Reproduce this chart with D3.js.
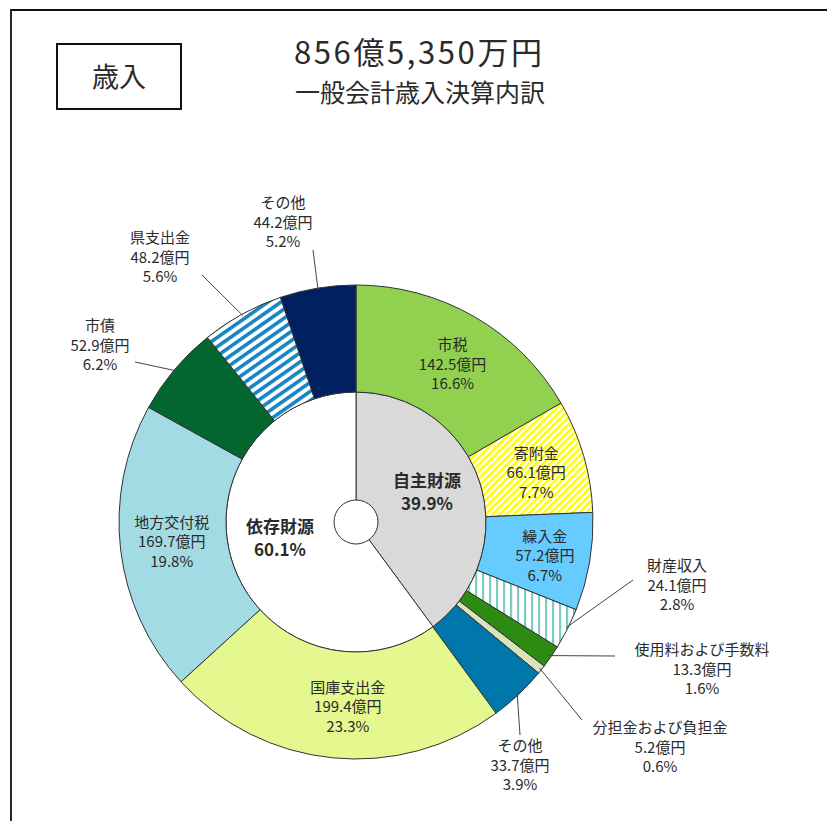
<!DOCTYPE html>
<html lang="ja">
<head>
<meta charset="utf-8">
<script src="https://cdn.jsdelivr.net/npm/d3@7"></script>
<style>
  html, body { margin: 0; padding: 0; background: #fff; }
  svg text { font-family: "Noto Sans CJK JP", "Noto Sans", sans-serif; fill: #2a2a2a; }
</style>
</head>
<body>
<div id="chart"></div>
<script>
// 歳入 outer ring (clockwise from the top)
const outerNames = ["市税", "寄附金", "繰入金", "財産収入", "使用料および手数料", "分担金および負担金",
  "その他", "国庫支出金", "地方交付税", "市債", "県支出金", "その他"];
const outerValues = [142.5, 66.1, 57.2, 24.1, 13.3, 5.2, 33.7, 199.4, 169.7, 52.9, 48.2, 44.2];
const outerPercents = [16.6, 7.7, 6.7, 2.8, 1.6, 0.6, 3.9, 23.3, 19.8, 6.2, 5.6, 5.2];
const outerFills = ["#92d050", "url(#hatchYellow)", "#66ccff", "url(#stripeTeal)", "#2e8b12", "#d8e4bc",
  "#0077aa", "#e4f88f", "#a2dbe3", "#03662f", "url(#hatchBlue)", "#002060"];

// inner pie
const innerNames = ["自主財源", "依存財源"];
const innerPercents = [39.9, 60.1];
const innerFills = ["#d9d9d9", "#ffffff"];

const titleTotal = "856億5,350万円";
const subTitle = "一般会計歳入決算内訳";
const boxLabel = "歳入";

const width = 827;
const height = 821;
const cx = 356;
const cy = 522;
const rOuter = 237;
const rInner = 130;
const rHole = 22;

const svg = d3.select("#chart")
  .append("svg")
  .attr("width", width)
  .attr("height", height);

// patterns
const defs = svg.append("defs");

function stripePattern(id, size, stripe, color, angle) {
  const p = defs.append("pattern")
    .attr("id", id)
    .attr("patternUnits", "userSpaceOnUse")
    .attr("width", size)
    .attr("height", size)
    .attr("patternTransform", `rotate(${angle})`);
  p.append("rect").attr("width", size).attr("height", size).attr("fill", "#fff");
  p.append("rect").attr("width", stripe).attr("height", size).attr("fill", color);
}
stripePattern("hatchYellow", 5, 2.6, "#ffff00", 45);
stripePattern("hatchBlue", 7.5, 3.6, "#1786c0", 55);
stripePattern("stripeTeal", 7, 2.2, "#7ccdbf", 0);

// frame
svg.append("path")
  .attr("d", `M11,${height} V10 H${width}`)
  .attr("fill", "none")
  .attr("stroke", "#111")
  .attr("stroke-width", 1.8);

svg.append("rect")
  .attr("x", 57).attr("y", 44)
  .attr("width", 124).attr("height", 65)
  .attr("fill", "none")
  .attr("stroke", "#111")
  .attr("stroke-width", 2);

svg.append("text")
  .attr("x", 119).attr("y", 87)
  .attr("text-anchor", "middle")
  .attr("font-size", 27)
  .text(boxLabel);

svg.append("text")
  .attr("x", 418).attr("y", 64)
  .attr("text-anchor", "middle")
  .attr("font-size", 31)
  .attr("textLength", 248)
  .text(titleTotal);

svg.append("text")
  .attr("x", 420).attr("y", 102)
  .attr("text-anchor", "middle")
  .attr("font-size", 25)
  .text(subTitle);

const g = svg.append("g").attr("transform", `translate(${cx},${cy})`);

const pie = d3.pie().sort(null).value((d) => d);
const outerArcs = pie(outerValues);
const innerArcs = pie(innerPercents);

const arcOuter = d3.arc().innerRadius(rInner).outerRadius(rOuter);
const arcInner = d3.arc().innerRadius(0).outerRadius(rInner);

g.selectAll("path.inner")
  .data(innerArcs)
  .enter()
  .append("path")
  .attr("class", "inner")
  .attr("d", arcInner)
  .attr("fill", (d, i) => innerFills[i])
  .attr("stroke", "#333")
  .attr("stroke-width", 1);

g.selectAll("path.outer")
  .data(outerArcs)
  .enter()
  .append("path")
  .attr("class", "outer")
  .attr("d", arcOuter)
  .attr("fill", (d, i) => outerFills[i])
  .attr("stroke", "#333")
  .attr("stroke-width", 1);

g.append("circle")
  .attr("r", rHole)
  .attr("fill", "#fff")
  .attr("stroke", "#333")
  .attr("stroke-width", 1);

function polar(angle, r) {
  return [Math.sin(angle) * r, -Math.cos(angle) * r];
}

function midAngle(d) {
  return (d.startAngle + d.endAngle) / 2;
}

function labelLines(i) {
  return [outerNames[i], `${outerValues[i].toFixed(1)}億円`, `${outerPercents[i].toFixed(1)}%`];
}

function drawBlock(x, y, lines, size, weight, gap) {
  const t = g.append("text")
    .attr("text-anchor", "middle")
    .attr("font-size", size)
    .attr("font-weight", weight);
  lines.forEach((line, k) => {
    t.append("tspan")
      .attr("x", x)
      .attr("y", y + k * gap)
      .text(line);
  });
}

// labels inside the ring: index -> radial nudge [dr, dx, dy]
const insideLabels = { 0: [2, 4, 3], 1: [0, 4, 2], 2: [4, 4, 2], 7: [0, 10, 2], 8: [0, -2, -2] };
Object.keys(insideLabels).forEach((key) => {
  const i = +key;
  const [dr, dx, dy] = insideLabels[key];
  const [x, y] = polar(midAngle(outerArcs[i]), (rInner + rOuter) / 2 + dr);
  drawBlock(x + dx, y + dy - 14, labelLines(i), 15, 400, 19.5);
});

// labels outside with leader lines: index -> [line end, text centre]
const outsideLabels = {
  3: [[277, 58], [321, 49]],
  4: [[259, 134], [346, 133]],
  5: [[226, 198], [304, 211]],
  6: [[164, 213], [164, 229]],
  9: [[-221, -160], [-256, -191]],
  10: [[-154, -247], [-196, -279]],
  11: [[-43, -272], [-73, -314]]
};
Object.keys(outsideLabels).forEach((key) => {
  const i = +key;
  const [end, textPos] = outsideLabels[key];
  const start = polar(midAngle(outerArcs[i]), rOuter - 2);
  g.append("line")
    .attr("x1", start[0]).attr("y1", start[1])
    .attr("x2", end[0]).attr("y2", end[1])
    .attr("stroke", "#444")
    .attr("stroke-width", 1);
  drawBlock(textPos[0], textPos[1], labelLines(i), 15, 400, 19.5);
});

// inner pie labels
drawBlock(71, -35, [innerNames[0], `${innerPercents[0].toFixed(1)}%`], 17, 700, 23);
drawBlock(-76, 11, [innerNames[1], `${innerPercents[1].toFixed(1)}%`], 17, 700, 23);
</script>
</body>
</html>
